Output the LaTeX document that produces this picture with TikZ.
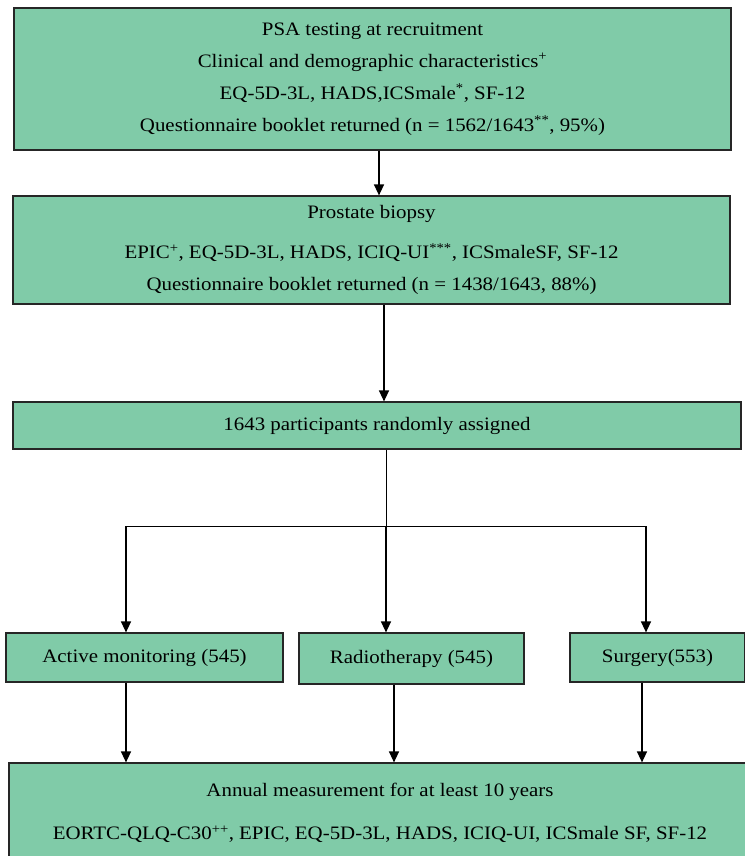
\documentclass[tikz,border=0pt]{standalone}
\usepackage{fontspec}
\setmainfont[FakeStretch=1.1]{Liberation Serif}
\usetikzlibrary{arrows.meta}

\definecolor{boxgreen}{RGB}{128,203,168}

\begin{document}
\begin{tikzpicture}[x=1pt,y=1pt,>={Triangle[width=10pt,length=11pt]},
  box node/.style={draw=black!85,fill=boxgreen,line width=1.2pt,
  align=center,inner sep=0pt,font=\fontsize{19}{32}\selectfont},
  arrow/.style={->,line width=1.4pt}]

  \useasboundingbox (0,0) rectangle (744,-856);

  % boxes, placed at pixel positions of the original
  \node[box node,minimum width=717,minimum height=142] (recruit) at (372.5,-79)
    {PSA testing at recruitment\\
     Clinical and demographic characteristics\textsuperscript{+}\\
     EQ-5D-3L, HADS,ICSmale\textsuperscript{*}, SF-12\\
     Questionnaire booklet returned (n = 1562/1643\textsuperscript{**}, 95\%)};
  \node[box node,minimum width=717,minimum height=108] (biopsy) at (371.5,-250)
    {Prostate biopsy\\[8pt]
     EPIC\textsuperscript{+}, EQ-5D-3L, HADS, ICIQ-UI\textsuperscript{***}, ICSmaleSF, SF-12\\
     Questionnaire booklet returned (n = 1438/1643, 88\%)};
  \node[box node,minimum width=728,minimum height=47] (assign) at (377,-425.5)
    {1643 participants randomly assigned};

  \node[box node,minimum width=277,minimum height=49] (monitor) at (144.5,-657.5)
    {Active monitoring (545)};
  \node[box node,minimum width=225,minimum height=51] (radio) at (411.5,-658.5)
    {Radiotherapy (545)};
  \node[box node,minimum width=175,minimum height=49] (surgery) at (657.5,-657.5)
    {Surgery(553)};

  \node[box node,minimum width=742,minimum height=100] (annual) at (380,-813)
    {Annual measurement for at least 10 years\\[11pt]
     EORTC-QLQ-C30\textsuperscript{++}, EPIC, EQ-5D-3L, HADS, ICIQ-UI, ICSmale SF, SF-12};

  % branch points
  \coordinate (split) at (386,-526);
  \coordinate (left) at (126,-526);
  \coordinate (right) at (646,-526);

  \draw[arrow] ([xshift=6.5pt]recruit.south) -- ([xshift=7.5pt]biopsy.north);
  \draw[arrow] ([xshift=12.5pt]biopsy.south) -- ([xshift=12.5pt]biopsy.south |- assign.north);
  \draw[line width=1pt] (assign.south -| split) -- (split);
  \draw[line width=1pt] (left) -- (right);
  \draw[arrow] (left) -- (left |- monitor.north);
  \draw[arrow] (split) -- (split |- radio.north);
  \draw[arrow] (right) -- (right |- surgery.north);

  \draw[arrow] (monitor.south -| left) -- (left |- annual.north);
  \draw[arrow] ([xshift=-17.5pt]radio.south) -- ([xshift=-17.5pt]radio.south |- annual.north);
  \draw[arrow] ([xshift=-15.5pt]surgery.south) -- ([xshift=-15.5pt]surgery.south |- annual.north);

\end{tikzpicture}
\end{document}
